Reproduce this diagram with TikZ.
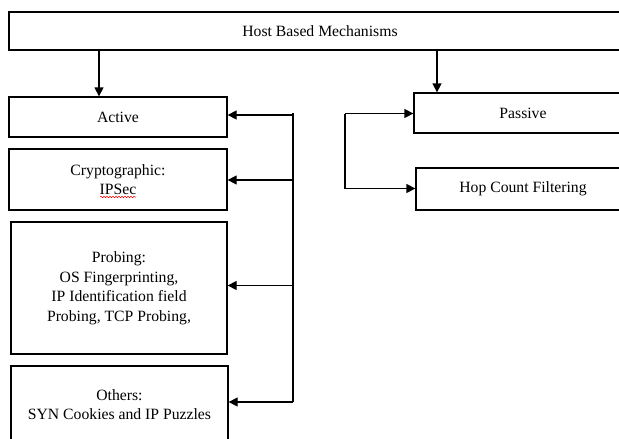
\documentclass[tikz,border=0pt]{standalone}
\usepackage{fontspec}
\setmainfont{Liberation Serif}
\usetikzlibrary{arrows.meta,decorations.pathmorphing}
\begin{document}
\begin{tikzpicture}[x=1pt,y=-1pt,
  box/.style={draw,line width=1.3pt,inner sep=0pt,align=center,
    font=\fontsize{15.7}{19.5}\selectfont},
  arr/.style={line width=1.3pt,-{Triangle[length=9pt,width=9pt]}},
  bus/.style={line width=1.3pt}]
\useasboundingbox (0,0) rectangle (619,439);
\clip (0,0) rectangle (619,439);
\fill[white] (0,0) rectangle (619,439);
\node[box,minimum width=622pt,minimum height=38pt] (top) at (320,31) {Host Based Mechanisms};
\node[box,minimum width=218pt,minimum height=40pt] (active) at (118,117) {Active};
\node[box,minimum width=218pt,minimum height=61pt] (crypto) at (118,179.5) {Cryptographic:\\IPSec};
\node[box,minimum width=216pt,minimum height=132pt] (probing) at (119,288) {Probing:\\OS Fingerprinting,\\IP Identification field\\Probing, TCP Probing,};
\node[box,minimum width=217pt,minimum height=77pt] (others) at (119.5,404.5) {Others:\\SYN Cookies and IP Puzzles};
\node[box,minimum width=218pt,minimum height=40pt] (passive) at (523,113) {Passive};
\node[box,minimum width=214pt,minimum height=42pt] (hop) at (523,189) {Hop Count Filtering};
% spell-check underline
\draw[red,line width=0.5pt,decorate,decoration={snake,amplitude=0.8pt,segment length=3pt}] (100,197) -- (136,197);
% top arrows
\coordinate (t1) at (99,0);
\coordinate (t2) at (437,0);
\draw[arr] (top.south -| t1) -- (active.north -| t1);
\draw[arr] (top.south -| t2) -- (passive.north -| t2);
% left bus
\coordinate (b0) at (293,113);
\coordinate (b1) at (293,115);
\coordinate (b2) at (293,180);
\coordinate (b3) at (293,285.5);
\coordinate (b4) at (293,402);
\draw[bus] (b0) -- (b4);
\draw[arr] (b1) -- (b1 -| active.east);
\draw[arr] (b2) -- (b2 -| crypto.east);
\draw[arr] (b3) -- (b3 -| probing.east);
\draw[arr] (b4) -- (b4 -| others.east);
% right bus
\coordinate (p1) at (345,113.5);
\coordinate (p2) at (345,188.5);
\draw[bus] (p1) -- (p2);
\draw[arr] (p1) -- (p1 -| passive.west);
\draw[arr] (p2) -- (p2 -| hop.west);
\end{tikzpicture}
\end{document}
